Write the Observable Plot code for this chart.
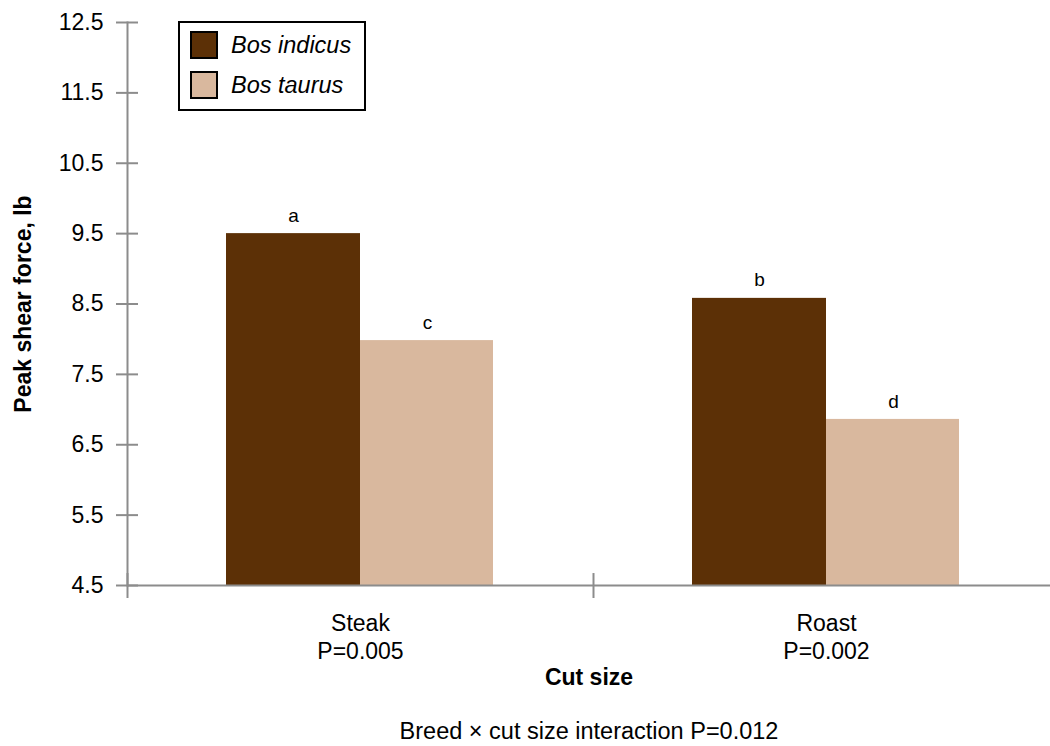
<!DOCTYPE html>
<html>
<head>
<meta charset="utf-8">
<script src="https://cdn.jsdelivr.net/npm/d3@7"></script>
<script src="https://cdn.jsdelivr.net/npm/@observablehq/plot@0.6"></script>
<style>
  html, body { margin: 0; padding: 0; background: #fff; }
  #wrap { position: relative; width: 1050px; height: 746px; font-family: "Liberation Sans", Arial, sans-serif; }
  #legend { position: absolute; left: 178px; top: 21px; width: 184px; height: 86px; border: 2px solid #000; background: #fff; }
  .item { position: absolute; left: 10px; display: flex; align-items: center; font-style: italic; font-size: 23.5px; color: #000; }
  .sw { width: 24px; height: 24px; border: 2px solid #000; margin-right: 13px; }
</style>
</head>
<body>
<div id="wrap"></div>
<script>
const cuts = ["Steak", "Roast"];
const cutP = ["P=0.005", "P=0.002"];
const breeds = ["Bos indicus", "Bos taurus"];
const breedColors = ["#5c3006", "#d9b89e"];
const indicusValues = [9.5, 8.58];
const taurusValues = [7.98, 6.86];
const indicusLetters = ["a", "b"];
const taurusLetters = ["c", "d"];
const yTicks = [4.5, 5.5, 6.5, 7.5, 8.5, 9.5, 10.5, 11.5, 12.5];
const yLabel = "Peak shear force, lb";
const xLabel = "Cut size";
const caption = "Breed \u00d7 cut size interaction P=0.012";

const yMin = yTicks[0], yMax = yTicks[yTicks.length - 1];
const indicus = cuts.map((c, i) => ({cut: c, value: indicusValues[i], letter: indicusLetters[i]}));
const taurus = cuts.map((c, i) => ({cut: c, value: taurusValues[i], letter: taurusLetters[i]}));
const pOf = Object.fromEntries(cuts.map((c, i) => [c, cutP[i]]));
const gray = "#8c8c8c";
const font = "Liberation Sans, Arial, sans-serif";

const chart = Plot.plot({
  width: 1050,
  height: 746,
  marginLeft: 127,
  marginRight: 0,
  marginTop: 22,
  marginBottom: 161,
  style: {fontFamily: font, fontSize: "23px", color: "#000", background: "#fff"},
  x: {domain: cuts, range: [127, 1059], padding: 0, axis: null},
  y: {domain: [yMin, yMax], axis: null},
  marks: [
    Plot.barY(indicus, {x: "cut", y1: () => yMin, y2: "value", fill: breedColors[0], insetLeft: 99, insetRight: 233}),
    Plot.barY(taurus, {x: "cut", y1: () => yMin, y2: "value", fill: breedColors[1], insetLeft: 233, insetRight: 100}),
    Plot.text(indicus, {x: "cut", y: "value", text: "letter", dx: -67, dy: -18, fontSize: 19, fill: "#000"}),
    Plot.text(taurus, {x: "cut", y: "value", text: "letter", dx: 67, dy: -18, fontSize: 19, fill: "#000"}),
    Plot.frame({anchor: "left", stroke: gray, strokeWidth: 2}),
    Plot.ruleY([yMin], {stroke: gray, strokeWidth: 2}),
    Plot.axisY({ticks: yTicks, tickSize: 22, dx: 11, tickPadding: 13, tickFormat: d => d.toFixed(1), label: null, stroke: gray, strokeWidth: 2, fill: "#000", fontSize: 23}),
    Plot.ruleX(cuts, {x: d => d, dx: -233, y1: yMin - 0.185, y2: yMin + 0.17, stroke: gray, strokeWidth: 2}),
    Plot.text(cuts, {x: d => d, text: d => d + "\n" + pOf[d], frameAnchor: "bottom", lineAnchor: "top", dy: 26, lineHeight: 1.2, fontSize: 23, fill: "#000"}),
    Plot.text([xLabel], {frameAnchor: "bottom", lineAnchor: "middle", dy: 92, fontSize: 23, fontWeight: "bold", fill: "#000"}),
    Plot.text([caption], {frameAnchor: "bottom", lineAnchor: "middle", dy: 146, fontSize: 23.5, fill: "#000"}),
    Plot.text([yLabel], {frameAnchor: "left", textAnchor: "middle", lineAnchor: "middle", rotate: -90, dx: -104, fontSize: 23, fontWeight: "bold", fill: "#000"})
  ]
});

const wrap = document.getElementById("wrap");
wrap.appendChild(chart);
const legend = document.createElement("div");
legend.id = "legend";
breeds.forEach((b, i) => {
  const it = document.createElement("div");
  it.className = "item";
  it.style.top = (8 + i * 40) + "px";
  const sw = document.createElement("div");
  sw.className = "sw";
  sw.style.background = breedColors[i];
  const t = document.createElement("span");
  t.textContent = b;
  it.appendChild(sw); it.appendChild(t);
  legend.appendChild(it);
});
wrap.appendChild(legend);
</script>
</body>
</html>
